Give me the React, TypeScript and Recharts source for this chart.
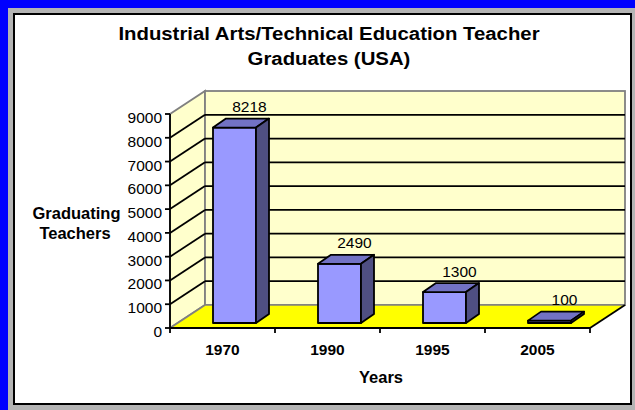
import React from 'react';
import { BarChart, Bar, XAxis, YAxis, CartesianGrid, ReferenceArea, LabelList } from 'recharts';

const years = ['1970', '1990', '1995', '2005'];
const graduates = [8218, 2490, 1300, 100];
const yTicks = [0, 1000, 2000, 3000, 4000, 5000, 6000, 7000, 8000, 9000];
const innerGrid = yTicks.slice(1, -1);

const data = years.map((year, i) => ({ year, graduates: graduates[i] }));

const FONT = 'Arial, "Liberation Sans", Helvetica, sans-serif';

// depth of the 3d box (walls / floor)
const DX = 35;
const DY = 23;
// bars sit a little behind the front plane
const BAR_SHIFT_X = 12;
const BAR_SHIFT_Y = 5;
const BAR_DX = 13;
const BAR_DY = 9;

function Walls(props: any) {
  const { x, y, width: w, height: h } = props;
  const b = y + h;
  return (
    <g>
      <polygon
        points={`${x},${b} ${x},${y} ${x + DX},${y - DY} ${x + DX},${b - DY}`}
        fill="#FFFFCC"
        stroke="#808080"
        strokeWidth={1.8}
      />
      <rect x={x + DX} y={y - DY} width={w} height={h} fill="#FFFFCC" stroke="#808080" strokeWidth={1.8} />
      <polygon
        points={`${x},${b} ${x + w},${b} ${x + w + DX},${b - DY} ${x + DX},${b - DY}`}
        fill="#FFFF00"
      />
      <line x1={x + DX} y1={b - DY} x2={x + w + DX} y2={b - DY} stroke="#808080" strokeWidth={1.5} />
      <line x1={x} y1={b} x2={x + DX} y2={b - DY} stroke="#808080" strokeWidth={1.8} />
      <line x1={x + w} y1={b} x2={x + w + DX} y2={b - DY} stroke="#000" strokeWidth={1.8} />
    </g>
  );
}

function GridLine(props: any) {
  const { x1, x2, y1 } = props;
  return (
    <g key={props.key}>
      <line x1={x1} y1={y1} x2={x1 + DX} y2={y1 - DY} stroke="#000" strokeWidth={1.8} />
      <line x1={x1 + DX} y1={y1 - DY} x2={x2 + DX} y2={y1 - DY} stroke="#000" strokeWidth={1.8} />
    </g>
  );
}

function Bar3D(props: any) {
  const { x, y, width: w, height: h } = props;
  const fx = x + BAR_SHIFT_X;
  const fy = y - BAR_SHIFT_Y;
  const top = `${fx},${fy} ${fx + BAR_DX},${fy - BAR_DY} ${fx + w + BAR_DX},${fy - BAR_DY} ${fx + w},${fy}`;
  const side = `${fx + w},${fy} ${fx + w + BAR_DX},${fy - BAR_DY} ${fx + w + BAR_DX},${fy + h - BAR_DY} ${fx + w},${fy + h}`;
  return (
    <g stroke="#000" strokeWidth={1.8} strokeLinejoin="round">
      <rect x={fx} y={fy} width={w} height={h} fill="#9999FF" />
      <polygon points={top} fill="#7272C4" />
      <polygon points={side} fill="#4F4F82" />
    </g>
  );
}

function ValueLabel(props: any) {
  const vb = props.viewBox && props.viewBox.width != null ? props.viewBox : props;
  const { x, y, width } = vb;
  return (
    <text
      x={x + width / 2 + BAR_SHIFT_X + 15}
      y={y - BAR_SHIFT_Y - BAR_DY - 6.5}
      textAnchor="middle"
      fontSize={15.5}
      fontFamily={FONT}
      fill="#000"
    >
      {props.value}
    </text>
  );
}

function YTick(props: any) {
  const { x, y, payload } = props;
  return (
    <text x={x} y={y + 9} textAnchor="end" fontSize={15.5} fontFamily={FONT} fill="#000">
      {payload.value}
    </text>
  );
}

function YearTick(props: any) {
  const { x, y, payload, index } = props;
  const half = payload.offset > 0 ? payload.offset : 52.5;
  const last = index === years.length - 1;
  return (
    <g>
      <line x1={x - half} y1={y} x2={x - half} y2={y + 5} stroke="#000" strokeWidth={1.8} />
      {last && <line x1={x + half} y1={y} x2={x + half} y2={y + 5} stroke="#000" strokeWidth={1.8} />}
      <text x={x} y={y + 27} textAnchor="middle" fontSize={15.5} fontWeight="bold" fontFamily={FONT} fill="#000">
        {payload.value}
      </text>
    </g>
  );
}

export default function App() {
  const cx = 329;
  return (
    <div style={{ position: 'absolute', left: 0, top: 0, width: 635, height: 410, background: '#0000FF', overflow: 'hidden' }}>
      <div style={{ position: 'absolute', left: 8, top: 8, width: 627, height: 402, background: '#B4B4B4' }} />
      <div style={{ position: 'absolute', left: 13, top: 13, width: 619, height: 392, background: '#000' }} />
      <div style={{ position: 'absolute', left: 15, top: 15, width: 615, height: 388, background: '#FFF' }} />
      <div style={{ position: 'absolute', left: 0, top: 0 }}>
        <BarChart width={635} height={410} data={data} margin={{ top: 114, right: 45, bottom: 52, left: 110 }}>
          <ReferenceArea y1={0} y2={9000} shape={Walls} zIndex={-200} />
          <CartesianGrid vertical={false} horizontal={GridLine} horizontalValues={innerGrid} zIndex={-100} />
          <XAxis
            dataKey="year"
            height={30}
            interval={0}
            tickSize={0}
            tickMargin={0}
            tickLine={false}
            axisLine={{ stroke: '#000', strokeWidth: 1.8 }}
            tick={YearTick}
          />
          <YAxis
            width={60}
            domain={[0, 9000]}
            ticks={yTicks}
            interval={0}
            tickSize={5}
            tickMargin={3}
            tickLine={{ stroke: '#000', strokeWidth: 1.8 }}
            axisLine={{ stroke: '#000', strokeWidth: 1.8 }}
            tick={YTick}
          />
          <Bar dataKey="graduates" barSize={43} shape={Bar3D} isAnimationActive={false}>
            <LabelList dataKey="graduates" content={ValueLabel} />
          </Bar>
        </BarChart>
      </div>
      <svg width={635} height={410} style={{ position: 'absolute', left: 0, top: 0, pointerEvents: 'none' }}>
        <g fontFamily={FONT} fontWeight="bold" fill="#000" textAnchor="middle">
          <g transform={`translate(${cx},0) scale(1.1,1) translate(${-cx},0)`} fontSize={18.5}>
            <text x={cx} y={40}>Industrial Arts/Technical Education Teacher</text>
            <text x={cx} y={65}>Graduates (USA)</text>
          </g>
          <text x={76.5} y={219} fontSize={16.5}>Graduating</text>
          <text x={75} y={239} fontSize={16.5}>Teachers</text>
          <text x={381} y={382.5} fontSize={16.5}>Years</text>
        </g>
      </svg>
    </div>
  );
}
